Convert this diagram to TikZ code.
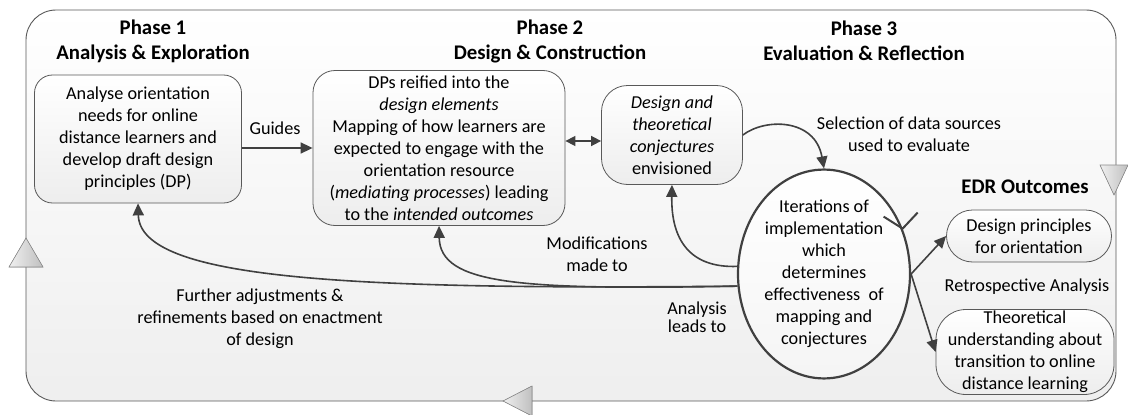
\documentclass[tikz,border=0pt]{standalone}
\usepackage{fontspec}
\setmainfont{Carlito}
\usepackage{tikz}
\usetikzlibrary{arrows.meta,positioning,calc,shapes.geometric}
\definecolor{Ink}{HTML}{404040}
\definecolor{Edge}{HTML}{595959}
\definecolor{Wedge}{HTML}{8C8C8C}

\begin{document}
\begin{tikzpicture}[x=1pt,y=-1pt,
  every node/.style={font=\fontsize{18.2}{22}\selectfont,align=center},
  title/.style={font=\fontsize{20.8}{25}\selectfont\bfseries},
  stage/.style={draw=Edge,line width=0.8pt,rounded corners=18pt,top color=white,bottom color=gray!14,inner sep=0pt},
  link/.style={draw=Ink,line width=1.6pt,-{Triangle[length=12pt,width=11pt]}},
  wedge/.style={draw=Wedge,line width=0.6pt,left color=gray!12,right color=gray!50}]
  \useasboundingbox (0,0) rectangle (1128,415);

  % outer cycle frame
  \draw[draw=Edge,line width=0.9pt,rounded corners=30pt,top color=white,bottom color=gray!13] (26,10) rectangle (1116,401);

  % phase headings
  \node[title] (p1) at (153,41) {Phase 1\\Analysis \& Exploration};
  \node[title] (p2) at (550,41) {Phase 2\\Design \& Construction};
  \node[title] (p3) at (864,41) {Phase 3\\Evaluation \& Reflection};
  \node[title] (edr) at (1025,187) {EDR Outcomes};

  % stages
  \node[stage,minimum width=207pt,minimum height=128pt] (analyse) at (138,139)
    {Analyse orientation\\needs for online\\distance learners and\\develop draft design\\principles (DP)};
  \node[stage,minimum width=252pt,minimum height=155pt,rounded corners=22pt] (reify) at (439,148)
    {DPs reified into the\\\textit{design elements}\\Mapping of how learners are\\expected to engage with the\\orientation resource\\(\textit{mediating processes}) leading\\to the \textit{intended outcomes}};
  \node[stage,minimum width=141pt,minimum height=99pt,rounded corners=26pt] (conj) at (672,135)
    {\textit{Design and}\\\textit{theoretical}\\\textit{conjectures}\\envisioned};
  \node[ellipse,draw=Ink,line width=2.2pt,top color=white,bottom color=gray!8,minimum width=172pt,minimum height=201pt,inner sep=0pt] (iter) at (824,274)
    {Iterations of\\implementation\\which\\determines\\effectiveness~ of\\mapping and\\conjectures};
  \node[stage,minimum width=165pt,minimum height=52pt,rounded corners=26pt] (principles) at (1029,236)
    {Design principles\\for orientation};
  \node[stage,minimum width=178pt,minimum height=85pt,rounded corners=30pt] (theory) at (1025,352)
    {Theoretical\\understanding about\\transition to online\\distance learning};

  % labels on the links
  \node (guides) at (275,128) {Guides};
  \node (select) at (909,134) {Selection of data sources\\used to evaluate};
  \node (modify) at (597,254) {Modifications\\made to};
  \node[font=\fontsize{18.2}{18}\selectfont] (leads) at (697,317) {Analysis\\leads to};
  \node (further) at (260,319) {Further adjustments \&\\refinements based on enactment\\of design};
  \node (retro) at (1027,287) {Retrospective Analysis};

  % links
  \draw[link] (analyse.east |- reify.west) -- (reify.west);
  \draw[link,{Triangle[length=10pt,width=10pt]}-{Triangle[length=10pt,width=10pt]}] ([yshift=-6pt]conj.west -| reify.east) -- ([yshift=-6pt]conj.west);
  \draw[link] (conj.east) .. controls (765,118) and (815,118) .. (iter.north);
  \draw[link] (iter.175) .. controls (690,268) and (671,240) .. (conj.south);
  \draw[link] (iter.188) .. controls (520,290) and (440,285) .. (reify.south);
  \draw[link] (iter.188) .. controls (350,290) and (140,280) .. (analyse.south);
  \draw[link] (iter.east) -- (principles.west);
  \draw[link] (iter.east) -- (theory.west);
  \draw[Ink,line width=2pt] ($(iter.30)+(-19,-12)$) -- (iter.30) -- ($(iter.30)+(15,-16)$);

  % direction marks on the frame
  \filldraw[wedge] (9,267) -- (26,238) -- (43,267) -- cycle;
  \filldraw[wedge] (1100,165) -- (1128,165) -- (1114,195) -- cycle;
  \filldraw[wedge] (532,386) -- (503,401) -- (532,416) -- cycle;
\end{tikzpicture}
\end{document}
